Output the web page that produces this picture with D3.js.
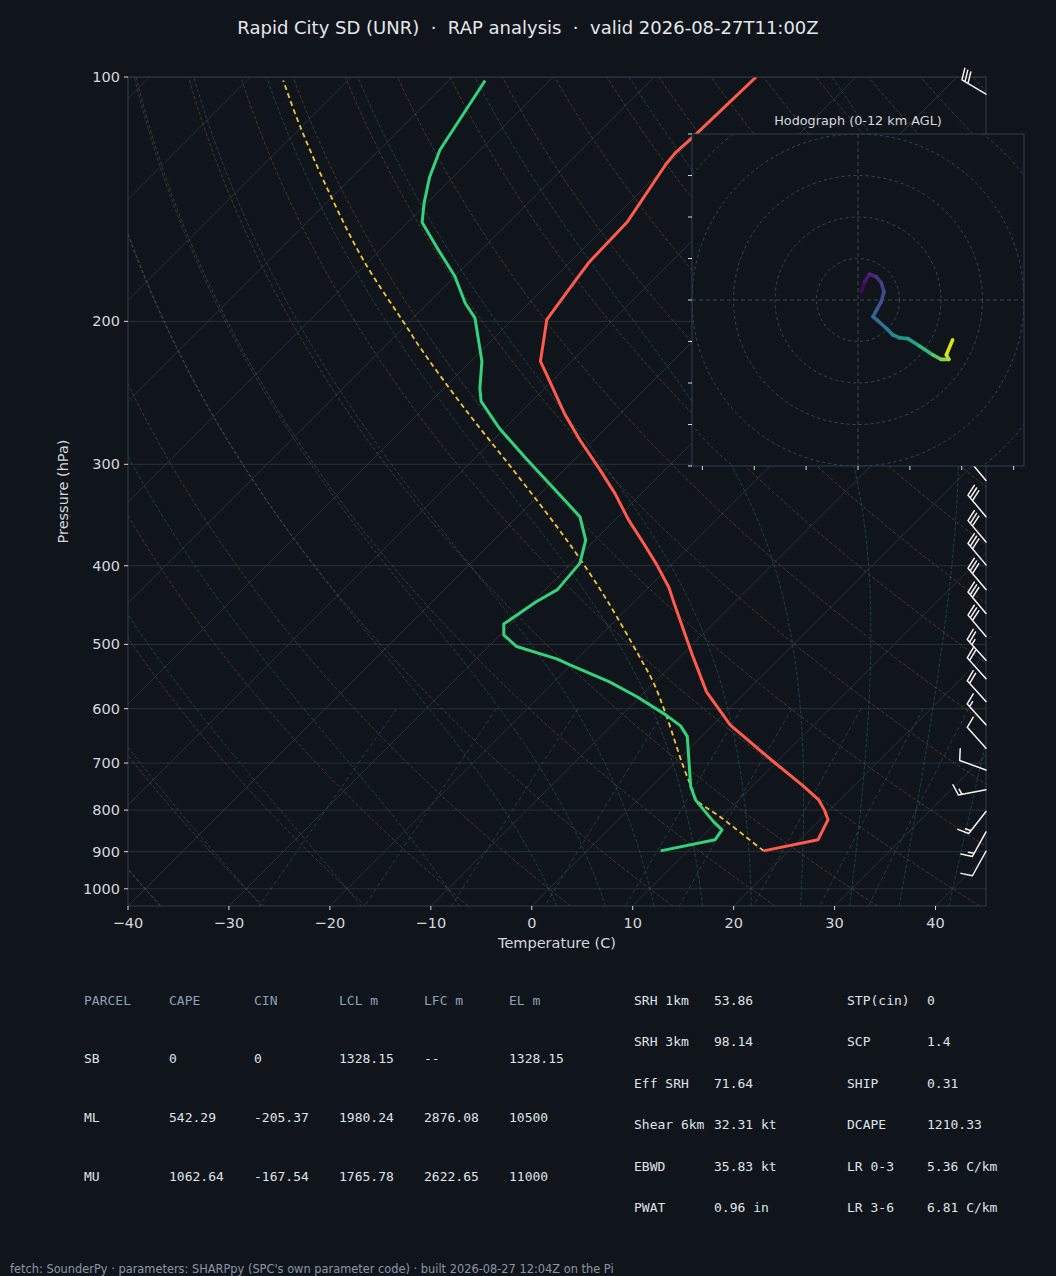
<!DOCTYPE html>
<html><head><meta charset="utf-8">
<script src="https://cdn.jsdelivr.net/npm/d3@7"></script>
<style>
html,body{margin:0;padding:0;background:#10151b;}
svg{display:block;}
text{white-space:pre;}
</style></head><body>
<svg id="c" width="1056" height="1276"></svg>
<script>
// ---------------- DATA ----------------
const titleText = "Rapid City SD (UNR)  \u00b7  RAP analysis  \u00b7  valid 2026-08-27T11:00Z";
const footerText = "fetch: SounderPy \u00b7 parameters: SHARPpy (SPC's own parameter code) \u00b7 built 2026-08-27 12:04Z on the Pi";

const tempP = [898, 870, 822, 800, 777, 748, 687, 628, 572, 518, 441, 426, 399, 375, 351, 326, 305, 280, 260, 232, 224, 199, 177, 169, 151, 128, 124, 118, 100];
const tempT = [17.5, 21.8, 20.8, 19.5, 17.9, 15.1, 8.5, 1.7, -3.9, -8.7, -16.3, -17.9, -21.4, -24.9, -28.7, -32.6, -36.4, -41.4, -45.5, -51.3, -53.1, -56.6, -57.7, -58.1, -58.3, -60.2, -60.4, -60.2, -59.9];

const dewP = [898, 870, 846, 826, 777, 748, 649, 630, 611, 580, 556, 530, 521, 503, 487, 472, 460, 443, 428, 397, 372, 348, 324, 296, 271, 251, 242, 224, 198, 190, 176, 162, 151, 143, 133, 123, 101];
const dewT = [7.3, 11.6, 11.3, 9.6, 5.7, 3.9, -1.4, -3.1, -5.6, -10.3, -14.5, -20.1, -22.0, -27.2, -29.6, -30.7, -30.3, -29.7, -28.8, -29.2, -30.9, -33.8, -38.6, -44.7, -50.5, -55.0, -56.4, -58.9, -63.9, -66.3, -70.0, -74.7, -78.6, -80.3, -82.3, -84.0, -86.4];

const parcelP = [898, 815, 777, 755, 707, 611, 558, 518, 443, 393, 358, 305, 255, 215, 203, 168, 140, 115, 101];
const parcelT = [17.5, 9.8, 5.8, 4.4, 1.2, -5.6, -10.0, -14.0, -22.6, -29.5, -35.1, -45.0, -56.2, -66.5, -69.8, -80.7, -90.3, -100.2, -106.4];

const barbP   = [105, 314, 348, 374, 399, 428, 458, 489, 523, 551, 588, 628, 671, 714, 755, 803, 851, 899];
const barbDir = [301, 320, 320, 320, 320, 320, 320, 320, 318, 318, 318, 318, 318, 290, 259, 218, 209, 209];
const barbSpd = [30, 30, 30, 30, 30, 30, 30, 30, 25, 20, 20, 15, 10, 10, 15, 15, 15, 10];

const hodoU = [0.8, 1.6, 2.8, 4.4, 5.6, 6.25, 5.6, 4.6, 3.6, 4.8, 6.8, 8.4, 10.0, 12.0, 14.8, 18.0, 20.0, 21.9, 21.3, 22.8];
const hodoV = [2.0, 4.4, 6.25, 5.6, 4.2, 2.0, -0.4, -2.2, -4.0, -5.0, -6.8, -8.4, -9.1, -9.3, -11.1, -13.2, -14.3, -14.3, -13.2, -9.6];
const hodoH = [0, 0.5, 1.0, 1.5, 2.0, 2.5, 3.0, 3.4, 3.8, 4.2, 4.8, 5.4, 6.0, 6.6, 7.4, 8.4, 9.4, 10.2, 10.6, 12.0];
const hodoRings = [10, 20, 30, 40, 50];
const hodoXTicks = [-37.5, -25, -12.5, 0, 12.5, 25, 37.5];
const hodoYTicks = [-40, -30, -20, -10, 0, 10, 20, 30, 40];

const pTicks = [100, 200, 300, 400, 500, 600, 700, 800, 900, 1000];
const tTicks = [-40, -30, -20, -10, 0, 10, 20, 30, 40];
const isotherms = d3.range(-150, 50, 10);
const dryT0 = d3.range(-40, 246, 10);
const moistT0 = [-40, -30, -20, -10, 0, 5, 10, 15, 20, 25, 30, 35, 40, 45];
const mixRatios = [0.0004, 0.001, 0.002, 0.004, 0.007, 0.01, 0.016, 0.024, 0.032];

const parcelHeader = ["PARCEL", "CAPE", "CIN", "LCL m", "LFC m", "EL m"];
const parcelRows = [
  ["SB", "0", "0", "1328.15", "--", "1328.15"],
  ["ML", "542.29", "-205.37", "1980.24", "2876.08", "10500"],
  ["MU", "1062.64", "-167.54", "1765.78", "2622.65", "11000"]
];
const paramRows = [
  ["SRH 1km", "53.86", "STP(cin)", "0"],
  ["SRH 3km", "98.14", "SCP", "1.4"],
  ["Eff SRH", "71.64", "SHIP", "0.31"],
  ["Shear 6km", "32.31 kt", "DCAPE", "1210.33"],
  ["EBWD", "35.83 kt", "LR 0-3", "5.36 C/km"],
  ["PWAT", "0.96 in", "LR 3-6", "6.81 C/km"]
];

// ---------------- LAYOUT ----------------
const BG = "#10151b";
const L = 128, R = 986, T = 77, B = 906;
const SKEW = 1.0;
const svg = d3.select("#c");
svg.append("rect").attr("width", 1056).attr("height", 1276).attr("fill", BG);

const x = d3.scaleLinear().domain([-40, 45]).range([L, R]);
const y = d3.scaleLog().domain([1050, 100]).range([B, T]);
const sx = (t, p) => x(t) + (B - y(p)) * SKEW;

svg.append("defs").append("clipPath").attr("id", "plotclip")
  .append("rect").attr("x", L).attr("y", T).attr("width", R - L).attr("height", B - T);

const plot = svg.append("g").attr("clip-path", "url(#plotclip)");

// pressure grid
plot.selectAll(".pg").data(pTicks).join("line")
  .attr("x1", L).attr("x2", R).attr("y1", d => y(d)).attr("y2", d => y(d))
  .attr("stroke", "#283039").attr("stroke-width", 1);
// isotherms
plot.selectAll(".ig").data(isotherms).join("line")
  .attr("x1", d => sx(d, 1050)).attr("y1", B).attr("x2", d => sx(d, 100)).attr("y2", T)
  .attr("stroke", "#283039").attr("stroke-width", 1);

// thermodynamic helper lines
const Rd = 287.04749, Cp = 1004.6662, Lv = 2.50084e6, EPS = 0.622, KAPPA = Rd / Cp;
const presAll = d3.range(1050, 99, -5);
const line = d3.line().x(d => sx(d[1], d[0])).y(d => y(d[0]));

const dryLines = dryT0.map(t0 => presAll.map(p => [p, (t0 + 273.15) * Math.pow(p / 1000, KAPPA) - 273.15]));
plot.selectAll(".dry").data(dryLines).join("path").attr("d", line)
  .attr("fill", "none").attr("stroke", "#a3763c").attr("stroke-opacity", 0.36)
  .attr("stroke-width", 1).attr("stroke-dasharray", "3.5,2");

function esat(Tk) { const tc = Tk - 273.15; return 6.112 * Math.exp(17.67 * tc / (tc + 243.5)); }
function dTdp(p, Tk) {
  const es = esat(Tk);
  const rs = EPS * es / Math.max(p - es, 1e-6);
  return (1 / p) * (Rd * Tk + Lv * rs) / (Cp + (Lv * Lv * rs * EPS) / (Rd * Tk * Tk));
}
function moist(t0) {
  const res = new Map();
  const integrate = (dp, pEnd) => {
    let p = 1000, Tk = t0 + 273.15;
    res.set(1000, Tk);
    while ((dp < 0 && p > pEnd) || (dp > 0 && p < pEnd)) {
      const k1 = dTdp(p, Tk);
      const k2 = dTdp(p + dp / 2, Tk + dp / 2 * k1);
      const k3 = dTdp(p + dp / 2, Tk + dp / 2 * k2);
      const k4 = dTdp(p + dp, Tk + dp * k3);
      Tk += dp / 6 * (k1 + 2 * k2 + 2 * k3 + k4);
      p = Math.round((p + dp) * 1000) / 1000;
      res.set(p, Tk);
    }
  };
  integrate(-1, 100);
  integrate(1, 1050);
  return Array.from(res.entries()).sort((a, b) => b[0] - a[0])
    .filter(d => d[0] % 5 === 0).map(d => [d[0], d[1] - 273.15]);
}
const moistLines = moistT0.map(moist);
plot.selectAll(".moist").data(moistLines).join("path").attr("d", line)
  .attr("fill", "none").attr("stroke", "#3f6f7c").attr("stroke-opacity", 0.45)
  .attr("stroke-width", 1).attr("stroke-dasharray", "3.5,2");

const mixPres = d3.range(600, 1051, 10);
const mixLines = mixRatios.map(w => mixPres.map(p => {
  const e = p * w / (EPS + w);
  const lnr = Math.log(e / 6.112);
  return [p, 243.5 * lnr / (17.67 - lnr)];
}));
plot.selectAll(".mix").data(mixLines).join("path").attr("d", line)
  .attr("fill", "none").attr("stroke", "#3b5a75").attr("stroke-opacity", 0.55)
  .attr("stroke-width", 1).attr("stroke-dasharray", "4,3");

// data lines
const zip = (P, V) => P.map((p, i) => [p, V[i]]);
const smooth = d3.line().x(d => sx(d[1], d[0])).y(d => y(d[0])).curve(d3.curveCatmullRom.alpha(0.5));
plot.append("path").attr("d", smooth(zip(parcelP, parcelT))).attr("fill", "none")
  .attr("stroke", "#f2c53d").attr("stroke-width", 1.8).attr("stroke-dasharray", "5,3.5");
plot.append("path").attr("d", line(zip(tempP, tempT))).attr("fill", "none")
  .attr("stroke", "#ff5a4c").attr("stroke-width", 3).attr("stroke-linejoin", "round");
plot.append("path").attr("d", line(zip(dewP, dewT))).attr("fill", "none")
  .attr("stroke", "#34d27a").attr("stroke-width", 3).attr("stroke-linejoin", "round");

// spines
svg.append("rect").attr("x", L).attr("y", T).attr("width", R - L).attr("height", B - T)
  .attr("fill", "none").attr("stroke", "#323c48").attr("stroke-width", 1);

// ticks & labels
const TXT = "#d4d8de";
const FONT = "DejaVu Sans, sans-serif";
svg.selectAll(".yt").data(pTicks).join("line")
  .attr("x1", L - 4).attr("x2", L).attr("y1", d => y(d)).attr("y2", d => y(d)).attr("stroke", TXT);
svg.selectAll(".ytl").data(pTicks).join("text")
  .attr("x", L - 8).attr("y", d => y(d)).attr("text-anchor", "end").attr("dominant-baseline", "central")
  .attr("fill", TXT).attr("font-family", FONT).attr("font-size", 14.5).text(d => d);
svg.selectAll(".xt").data(tTicks).join("line")
  .attr("x1", d => x(d)).attr("x2", d => x(d)).attr("y1", B).attr("y2", B + 4).attr("stroke", TXT);
svg.selectAll(".xtl").data(tTicks).join("text")
  .attr("x", d => x(d)).attr("y", B + 17).attr("text-anchor", "middle").attr("dominant-baseline", "central")
  .attr("fill", TXT).attr("font-family", FONT).attr("font-size", 14.5).text(d => d < 0 ? "\u2212" + Math.abs(d) : d);
svg.append("text").attr("x", (L + R) / 2).attr("y", 943).attr("text-anchor", "middle").attr("dominant-baseline", "central")
  .attr("fill", TXT).attr("font-family", FONT).attr("font-size", 14.5).text("Temperature (C)");
svg.append("text").attr("transform", `translate(63,${(T + B) / 2}) rotate(-90)`).attr("text-anchor", "middle")
  .attr("dominant-baseline", "central").attr("fill", TXT).attr("font-family", FONT).attr("font-size", 14.5)
  .text("Pressure (hPa)");
svg.append("text").attr("x", 528).attr("y", 27).attr("text-anchor", "middle").attr("dominant-baseline", "central")
  .attr("fill", "#e4e7eb").attr("font-family", FONT).attr("font-size", 18).text(titleText);

// wind barbs
function barbPath(ax, ay, dirDeg, spd, len) {
  const rad = dirDeg * Math.PI / 180;
  const u = -spd * Math.sin(rad), v = -spd * Math.cos(rad);
  const th = Math.atan2(v, u) + Math.PI / 2;
  const P = (lx, ly) => [ax + lx * Math.cos(th) - ly * Math.sin(th), ay - (lx * Math.sin(th) + ly * Math.cos(th))];
  const fh = 0.4 * len, fw = 0.25 * len, sp = 0.125 * len;
  let s = Math.round(spd / 5) * 5;
  const nflags = Math.floor(s / 50); s -= nflags * 50;
  const nb = Math.floor(s / 10); s -= nb * 10;
  const half = s >= 5;
  let d = "M" + P(0, 0) + "L" + P(0, len);
  let off = len;
  for (let i = 0; i < nflags; i++) {
    d += "M" + P(0, off) + "L" + P(fh, off - fw / 2) + "L" + P(0, off - fw) + "Z";
    off -= fw + sp;
  }
  for (let i = 0; i < nb; i++) {
    d += "M" + P(0, off) + "L" + P(fh, off + fw / 2);
    off -= sp;
  }
  if (half) {
    if (off === len) off -= 1.5 * sp;
    d += "M" + P(0, off) + "L" + P(fh / 2, off + fw / 4);
  }
  return d;
}
svg.selectAll(".barb").data(barbP).join("path")
  .attr("d", (p, i) => barbPath(R, y(p), barbDir[i], barbSpd[i], 28))
  .attr("fill", "#f2f2f2").attr("stroke", "#f2f2f2").attr("stroke-width", 1.5)
  .attr("stroke-linecap", "round").attr("stroke-linejoin", "round");

// ---------------- HODOGRAPH ----------------
const HX0 = 692, HY0 = 134, HS = 332;
const hx = d3.scaleLinear().domain([-40, 40]).range([HX0, HX0 + HS]);
const hy = d3.scaleLinear().domain([-40, 40]).range([HY0 + HS, HY0]);
const hg = svg.append("g");
hg.append("rect").attr("x", HX0).attr("y", HY0).attr("width", HS).attr("height", HS).attr("fill", BG);
svg.select("defs").append("clipPath").attr("id", "hodoclip")
  .append("rect").attr("x", HX0).attr("y", HY0).attr("width", HS).attr("height", HS);
const hin = hg.append("g").attr("clip-path", "url(#hodoclip)");
const ringCol = "#3a4653";
hin.selectAll(".ring").data(hodoRings).join("circle")
  .attr("cx", hx(0)).attr("cy", hy(0)).attr("r", d => hx(d) - hx(0))
  .attr("fill", "none").attr("stroke", ringCol).attr("stroke-width", 1).attr("stroke-dasharray", "3,3");
hin.append("line").attr("x1", HX0).attr("x2", HX0 + HS).attr("y1", hy(0)).attr("y2", hy(0))
  .attr("stroke", ringCol).attr("stroke-dasharray", "4,3");
hin.append("line").attr("y1", HY0).attr("y2", HY0 + HS).attr("x1", hx(0)).attr("x2", hx(0))
  .attr("stroke", ringCol).attr("stroke-dasharray", "4,3");
const segs = d3.range(hodoU.length - 1).map(i => ({
  x1: hx(hodoU[i]), y1: hy(hodoV[i]), x2: hx(hodoU[i + 1]), y2: hy(hodoV[i + 1]),
  c: d3.interpolateViridis(((hodoH[i] + hodoH[i + 1]) / 2) / 12)
}));
hin.selectAll(".seg").data(segs).join("line")
  .attr("x1", d => d.x1).attr("y1", d => d.y1).attr("x2", d => d.x2).attr("y2", d => d.y2)
  .attr("stroke", d => d.c).attr("stroke-width", 3.6).attr("stroke-linecap", "round");
hg.append("rect").attr("x", HX0).attr("y", HY0).attr("width", HS).attr("height", HS)
  .attr("fill", "none").attr("stroke", "#33404e").attr("stroke-width", 1);
hg.selectAll(".hyt").data(hodoYTicks).join("line")
  .attr("x1", HX0 - 4).attr("x2", HX0).attr("y1", d => hy(d)).attr("y2", d => hy(d)).attr("stroke", TXT);
hg.selectAll(".hxt").data(hodoXTicks).join("line")
  .attr("y1", HY0 + HS).attr("y2", HY0 + HS + 4).attr("x1", d => hx(d)).attr("x2", d => hx(d)).attr("stroke", TXT);
hg.append("text").attr("x", HX0 + HS / 2).attr("y", 120).attr("text-anchor", "middle").attr("dominant-baseline", "central")
  .attr("fill", TXT).attr("font-family", FONT).attr("font-size", 12.8).text("Hodograph (0-12 km AGL)");

// ---------------- TABLES ----------------
const MONO = "DejaVu Sans Mono, monospace";
const colX = [84, 169, 254, 339, 424, 509];
const rowY = [1000, 1058, 1117, 1176];
parcelHeader.forEach((h, j) => svg.append("text").attr("x", colX[j]).attr("y", rowY[0])
  .attr("dominant-baseline", "central").attr("fill", "#8ea0b6").attr("font-family", MONO).attr("font-size", 13).text(h));
parcelRows.forEach((r, i) => r.forEach((v, j) => svg.append("text").attr("x", colX[j]).attr("y", rowY[i + 1])
  .attr("dominant-baseline", "central").attr("fill", "#dfe3e8").attr("font-family", MONO).attr("font-size", 13).text(v)));
const pColX = [634, 714, 847, 927];
const pRowY = [1000, 1041, 1083, 1124, 1166, 1207];
paramRows.forEach((r, i) => r.forEach((v, j) => svg.append("text").attr("x", pColX[j]).attr("y", pRowY[i])
  .attr("dominant-baseline", "central").attr("fill", "#dfe3e8").attr("font-family", MONO).attr("font-size", 13).text(v)));

svg.append("text").attr("x", 10).attr("y", 1269).attr("dominant-baseline", "central")
  .attr("fill", "#8a96a6").attr("font-family", FONT).attr("font-size", 11.4).text(footerText);
</script>
</body></html>
